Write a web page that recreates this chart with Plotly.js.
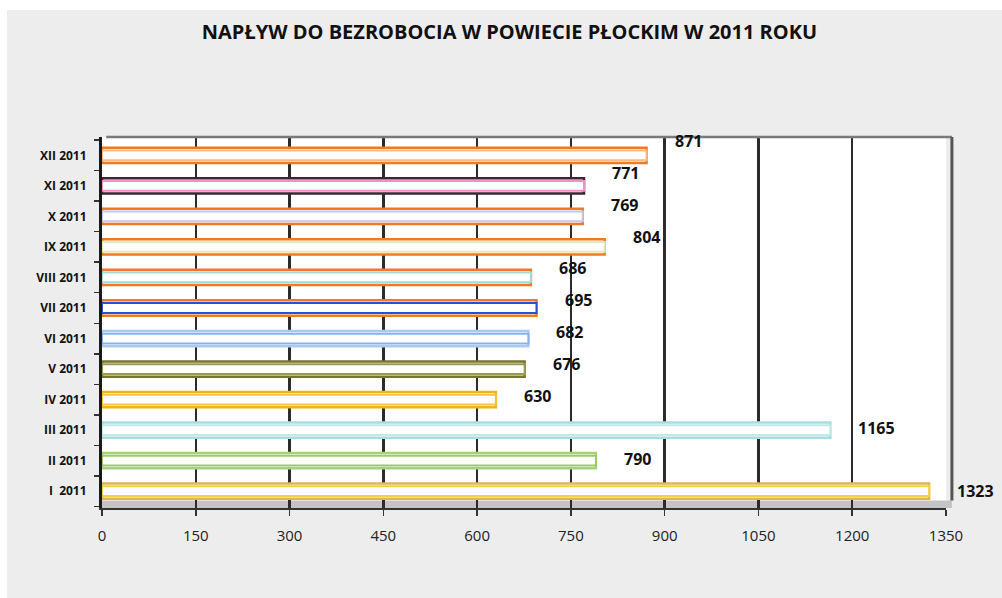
<!DOCTYPE html>
<html>
<head>
<meta charset="utf-8">
<script src="https://cdn.plot.ly/plotly-3.0.1.min.js"></script>
<style>
  html, body { margin: 0; padding: 0; background: #ffffff; }
  #chart { position: absolute; left: 7px; top: 10px; width: 995px; height: 588px; }
</style>
</head>
<body>
<div id="chart"></div>
<script>
// Categories (bottom to top, as Plotly draws them)
var months = ["I \u00a02011", "II 2011", "III 2011", "IV 2011", "V 2011", "VI 2011",
              "VII 2011", "VIII 2011", "IX 2011", "X 2011", "XI 2011", "XII 2011"];
// Inflow to unemployment per month
var inflow = [1323, 790, 1165, 630, 676, 682, 695, 686, 804, 769, 771, 871];
// X-axis ticks
var xTicks = [0, 150, 300, 450, 600, 750, 900, 1050, 1200, 1350];

// Bar colours (outer edge, inner stripe)
var outerColors = ["#e2b455", "#a6d276", "#a9dcdc", "#f0b418", "#77772a", "#a9c9f0",
                   "#f07a22", "#f07a22", "#f07a22", "#f07a22", "#3c2636", "#f07a22"];
var innerColors = ["#f2d23c", "#9cca62", "#c2e9e9", "#f3c448", "#9c9c56", "#86b3ea",
                   "#2352d6", "#a6dcd6", "#e6eab6", "#cbc3ee", "#f08fc8", "#f8b888"];

var outer = {
  type: "bar", orientation: "h",
  y: months, x: inflow,
  width: 0.5,
  marker: { color: "#ffffff", line: { color: outerColors, width: 2.5 } },
  hoverinfo: "skip", showlegend: false
};
var inner = {
  type: "bar", orientation: "h",
  y: months, x: inflow,
  width: 0.32,
  marker: { color: "#ffffff", line: { color: innerColors, width: 2 } },
  hoverinfo: "skip", showlegend: false
};

var annotations = months.map(function (m, i) {
  return {
    x: inflow[i], y: m, xref: "x", yref: "y",
    text: String(inflow[i]), showarrow: false,
    xanchor: "left", yanchor: "middle",
    xshift: 26, yshift: 1.3 * i,
    font: { family: "Open Sans, sans-serif", size: 16, color: "#111111", weight: 700 }
  };
});

var layout = {
  width: 995, height: 588,
  margin: { l: 95, r: 56, t: 127, b: 90 },
  paper_bgcolor: "#ededed",
  plot_bgcolor: "#ffffff",
  barmode: "overlay",
  title: {
    text: "<b>NAPŁYW DO BEZROBOCIA W POWIECIE PŁOCKIM W 2011 ROKU</b>",
    font: { family: "Open Sans, sans-serif", size: 20, color: "#111111" },
    x: 0.505, xanchor: "center", y: 0.9626, yanchor: "middle", yref: "container"
  },
  xaxis: {
    range: [0, 1350],
    tickmode: "array", tickvals: xTicks, ticktext: xTicks.map(String),
    showgrid: true, gridcolor: "#2b2b2b", gridwidth: 2.5,
    zeroline: false,
    showline: true, linecolor: "#333333", linewidth: 2, mirror: false,
    ticks: "outside", ticklen: 6, tickcolor: "#333333", tickwidth: 1.5,
    tickfont: { family: "Open Sans, sans-serif", size: 15, color: "#222222" },
    ticklabelstandoff: 7
  },
  yaxis: {
    type: "category",
    range: [-0.55, 11.6],
    showgrid: false, zeroline: false,
    showline: true, linecolor: "#1a1a1a", linewidth: 3,
    ticks: "outside", tickson: "boundaries", ticklen: 5, tickcolor: "#333333", tickwidth: 1.5,
    tickfont: { family: "Open Sans, sans-serif", size: 12, color: "#111111", weight: 700 },
    ticklabelstandoff: 10
  },
  shapes: [
    { type: "line", xref: "paper", yref: "paper", x0: 0.005, x1: 1.007, y0: 1, y1: 1,
      line: { color: "#7a7a7a", width: 2.5 } },
    { type: "line", xref: "paper", yref: "paper", x0: 1.007, x1: 1.007, y0: 1, y1: 0.02,
      line: { color: "#555555", width: 3 } },
    { type: "rect", xref: "paper", yref: "paper", x0: 0, x1: 1.007, y0: 0, y1: 0.02,
      fillcolor: "#c4c4c4", line: { width: 0 }, layer: "below" }
  ],
  annotations: annotations
};

Plotly.newPlot("chart", [outer, inner], layout, { displayModeBar: false, staticPlot: true });
</script>
</body>
</html>
